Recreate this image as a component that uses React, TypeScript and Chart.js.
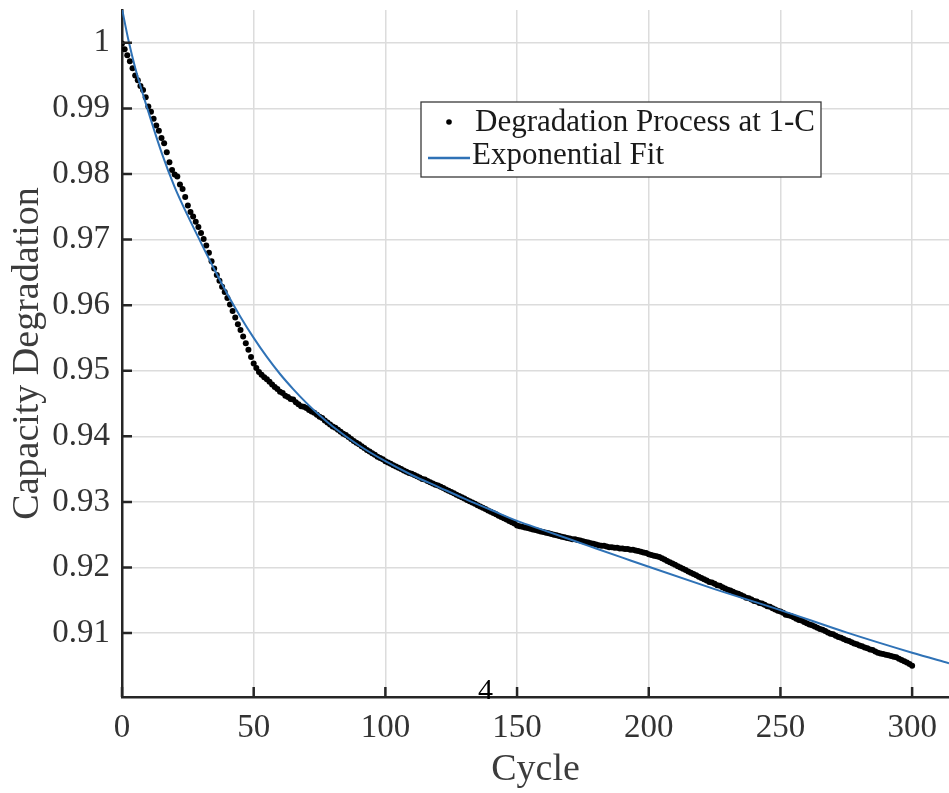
import React, { useEffect, useRef } from "react";
import { Chart, registerables } from "chart.js";

Chart.register(...registerables);

// Measured capacity (index = cycle number, 0..300)
const capacity: number[] = [
  0.9999, 0.9990, 0.9981, 0.9972, 0.9961, 0.9950, 0.9943, 0.9934, 0.9928, 0.9917,
  0.9903, 0.9895, 0.9884, 0.9874, 0.9866, 0.9855, 0.9847, 0.9833, 0.9818, 0.9806,
  0.9799, 0.9796, 0.9784, 0.9777, 0.9765, 0.9752, 0.9742, 0.9735, 0.9727, 0.9719,
  0.9710, 0.9701, 0.9691, 0.9680, 0.9667, 0.9656, 0.9646, 0.9637, 0.9628, 0.9620,
  0.9611, 0.9601, 0.9591, 0.9581, 0.9571, 0.9562, 0.9552, 0.9542, 0.9532, 0.9521,
  0.9511, 0.9504, 0.9498, 0.9494, 0.9490, 0.9487, 0.9483, 0.9479, 0.9475, 0.9472,
  0.9468, 0.9466, 0.9462, 0.9460, 0.9457, 0.9456, 0.9452, 0.9449, 0.9446, 0.9445,
  0.9443, 0.9440, 0.9438, 0.9436, 0.9433, 0.9430, 0.9428, 0.9424, 0.9421, 0.9418,
  0.9415, 0.9413, 0.9410, 0.9407, 0.9404, 0.9402, 0.9399, 0.9396, 0.9393, 0.9390,
  0.9388, 0.9385, 0.9382, 0.9379, 0.9377, 0.9374, 0.9372, 0.9369, 0.9367, 0.9365,
  0.9362, 0.9360, 0.9358, 0.9356, 0.9354, 0.9352, 0.9350, 0.9348, 0.9346, 0.9344,
  0.9343, 0.9341, 0.9339, 0.9337, 0.9335, 0.9334, 0.9332, 0.9330, 0.9328, 0.9326,
  0.9325, 0.9323, 0.9321, 0.9319, 0.9317, 0.9315, 0.9313, 0.9311, 0.9309, 0.9307,
  0.9305, 0.9303, 0.9301, 0.9299, 0.9297, 0.9295, 0.9293, 0.9291, 0.9289, 0.9287,
  0.9285, 0.9283, 0.9281, 0.9279, 0.9277, 0.9275, 0.9273, 0.9271, 0.9269, 0.9267,
  0.9264, 0.9263, 0.9262, 0.9261, 0.9260, 0.9259, 0.9258, 0.9257, 0.9256, 0.9255,
  0.9254, 0.9253, 0.9252, 0.9251, 0.9250, 0.9249, 0.9248, 0.9247, 0.9246, 0.9245,
  0.9244, 0.9243, 0.9243, 0.9242, 0.9241, 0.9240, 0.9239, 0.9238, 0.9237, 0.9236,
  0.9235, 0.9234, 0.9233, 0.9233, 0.9232, 0.9231, 0.9231, 0.9230, 0.9230, 0.9229,
  0.9229, 0.9228, 0.9228, 0.9227, 0.9227, 0.9226, 0.9225, 0.9224, 0.9223, 0.9222,
  0.9220, 0.9219, 0.9218, 0.9217, 0.9216, 0.9214, 0.9212, 0.9210, 0.9208, 0.9206,
  0.9204, 0.9202, 0.9200, 0.9198, 0.9196, 0.9194, 0.9192, 0.9190, 0.9188, 0.9186,
  0.9184, 0.9182, 0.9180, 0.9178, 0.9177, 0.9175, 0.9173, 0.9172, 0.9170, 0.9168,
  0.9166, 0.9165, 0.9163, 0.9161, 0.9160, 0.9158, 0.9156, 0.9154, 0.9153, 0.9151,
  0.9149, 0.9148, 0.9146, 0.9145, 0.9143, 0.9141, 0.9140, 0.9138, 0.9136, 0.9134,
  0.9133, 0.9131, 0.9128, 0.9127, 0.9126, 0.9124, 0.9122, 0.9120, 0.9119, 0.9117,
  0.9115, 0.9113, 0.9112, 0.9110, 0.9108, 0.9106, 0.9105, 0.9103, 0.9101, 0.9099,
  0.9098, 0.9096, 0.9094, 0.9093, 0.9091, 0.9089, 0.9088, 0.9086, 0.9084, 0.9083,
  0.9081, 0.9080, 0.9078, 0.9077, 0.9075, 0.9074, 0.9072, 0.9070, 0.9069, 0.9068,
  0.9067, 0.9066, 0.9065, 0.9064, 0.9063, 0.9061, 0.9059, 0.9057, 0.9055, 0.9053,
  0.9050,
];

// Exponential fit curve
const fitCycles: number[] = [0, 2.5, 5, 10, 15, 20, 25, 30, 35, 40, 45, 50, 55, 60, 65, 70, 75, 80, 90, 100, 110, 120, 130, 140, 150, 160, 170, 180, 190, 200, 225, 250, 275, 300, 314];
const fitValues: number[] = [1.0052, 1.0003, 0.9962, 0.9895, 0.9833, 0.9780, 0.9736, 0.9695, 0.9655, 0.9617, 0.9582, 0.9550, 0.9521, 0.9495, 0.9472, 0.9451, 0.9432, 0.9415, 0.9386, 0.9362, 0.9341, 0.9323, 0.9305, 0.9288, 0.9271, 0.9257, 0.9243, 0.9229, 0.9215, 0.9201, 0.9167, 0.9135, 0.9101, 0.9070, 0.9054];

const seriesLabels: string[] = ["Degradation Process at 1-C", "Exponential Fit"];
const xTitle = "Cycle";
const yTitle = "Capacity Degradation";
const pageNumber = "4";

const X_MIN = 0;
const X_MAX = 314;
const Y_MIN = 0.90025;
const Y_MAX = 1.005;

const SERIF = "'Liberation Serif', 'Times New Roman', serif";
const AXIS_COLOR = "#262626";
const FIT_COLOR = "#2f72b6";

const overlayPlugin = {
  id: "overlay",
  afterDraw(chart: any) {
    const ctx = chart.ctx as CanvasRenderingContext2D;
    const area = chart.chartArea;
    const xs = chart.scales.x;
    const ys = chart.scales.y;
    ctx.save();
    // inward tick marks
    ctx.strokeStyle = AXIS_COLOR;
    ctx.lineWidth = 2.5;
    ctx.beginPath();
    xs.ticks.forEach((t: any) => {
      const px = xs.getPixelForValue(t.value);
      ctx.moveTo(px, area.bottom);
      ctx.lineTo(px, area.bottom - 10);
    });
    ys.ticks.forEach((t: any) => {
      const py = ys.getPixelForValue(t.value);
      ctx.moveTo(area.left, py);
      ctx.lineTo(area.left + 10, py);
    });
    ctx.stroke();

    // legend box
    const bx = 421, by = 102, bw = 400, bh = 75;
    ctx.fillStyle = "#ffffff";
    ctx.fillRect(bx, by, bw, bh);
    ctx.strokeStyle = "#3a3a3a";
    ctx.lineWidth = 1.3;
    ctx.strokeRect(bx, by, bw, bh);

    ctx.fillStyle = "#000";
    ctx.beginPath();
    ctx.arc(449, 122, 2.8, 0, Math.PI * 2);
    ctx.fill();

    ctx.strokeStyle = FIT_COLOR;
    ctx.lineWidth = 2.5;
    ctx.beginPath();
    ctx.moveTo(428, 158);
    ctx.lineTo(470, 158);
    ctx.stroke();

    ctx.fillStyle = "#1a1a1a";
    ctx.font = `31px ${SERIF}`;
    ctx.textAlign = "left";
    ctx.textBaseline = "alphabetic";
    ctx.fillText(chart.data.datasets[0].label, 475, 131);
    ctx.fillText(chart.data.datasets[1].label, 472, 164);

    // stray page number
    ctx.fillStyle = "#000";
    ctx.font = `30px ${SERIF}`;
    ctx.textAlign = "center";
    ctx.fillText(pageNumber, 485.5, 699);
    ctx.restore();
  },
};

export default function App() {
  const canvasRef = useRef<HTMLCanvasElement | null>(null);

  useEffect(() => {
    if (!canvasRef.current) return;
    const points = capacity.map((v, i) => ({ x: i, y: v }));
    const fitPoints = fitCycles.map((c, i) => ({ x: c, y: fitValues[i] }));
    const chart = new Chart(canvasRef.current, {
      type: "scatter",
      data: {
        datasets: [
          {
            label: seriesLabels[0],
            data: points,
            backgroundColor: "#000",
            borderColor: "#000",
            pointRadius: 3,
            pointBorderWidth: 0,
            showLine: false,
            order: 1,
          },
          {
            label: seriesLabels[1],
            data: fitPoints,
            borderColor: FIT_COLOR,
            backgroundColor: FIT_COLOR,
            borderWidth: 2,
            pointRadius: 0,
            showLine: true,
            cubicInterpolationMode: "monotone",
            order: 0,
          } as any,
        ],
      },
      options: {
        animation: false,
        responsive: false,
        maintainAspectRatio: false,
        devicePixelRatio: 1,
        layout: { autoPadding: false, padding: { top: 10, right: 0, bottom: 0, left: 0 } },
        plugins: {
          legend: { display: false },
          tooltip: { enabled: false },
        },
        scales: {
          x: {
            type: "linear",
            min: X_MIN,
            max: X_MAX,
            afterFit: (s: any) => {
              s.height = 96;
              s.paddingLeft = 0;
              s.paddingRight = 0;
            },
            ticks: {
              stepSize: 50,
              includeBounds: false,
              padding: 12,
              color: "#333",
              font: { family: SERIF, size: 33 },
              maxRotation: 0,
            },
            grid: { color: "#dcdcdc", lineWidth: 1.5, drawTicks: false },
            border: { display: true, color: AXIS_COLOR, width: 2.5 },
            title: {
              display: true,
              text: xTitle,
              color: "#3c3c3c",
              font: { family: SERIF, size: 38 },
              padding: { top: 0, bottom: 0 },
            },
          },
          y: {
            type: "linear",
            min: Y_MIN,
            max: Y_MAX,
            afterFit: (s: any) => {
              s.width = 122;
              s.paddingTop = 0;
              s.paddingBottom = 0;
            },
            ticks: {
              stepSize: 0.01,
              includeBounds: false,
              padding: 12,
              color: "#333",
              font: { family: SERIF, size: 33 },
              callback: (v: any) => String(Number(Number(v).toFixed(2))),
            },
            grid: { color: "#dcdcdc", lineWidth: 1.5, drawTicks: false },
            border: { display: true, color: AXIS_COLOR, width: 2.5 },
            title: {
              display: true,
              text: yTitle,
              color: "#3c3c3c",
              font: { family: SERIF, size: 38 },
              padding: { top: 5, bottom: 0 },
            },
          },
        },
      },
      plugins: [overlayPlugin],
    });
    return () => chart.destroy();
  }, []);

  return (
    <div style={{ position: "absolute", left: 0, top: 0, width: 949, height: 793, background: "#fff" }}>
      <canvas ref={canvasRef} width={949} height={793} style={{ display: "block", width: 949, height: 793 }} />
    </div>
  );
}
